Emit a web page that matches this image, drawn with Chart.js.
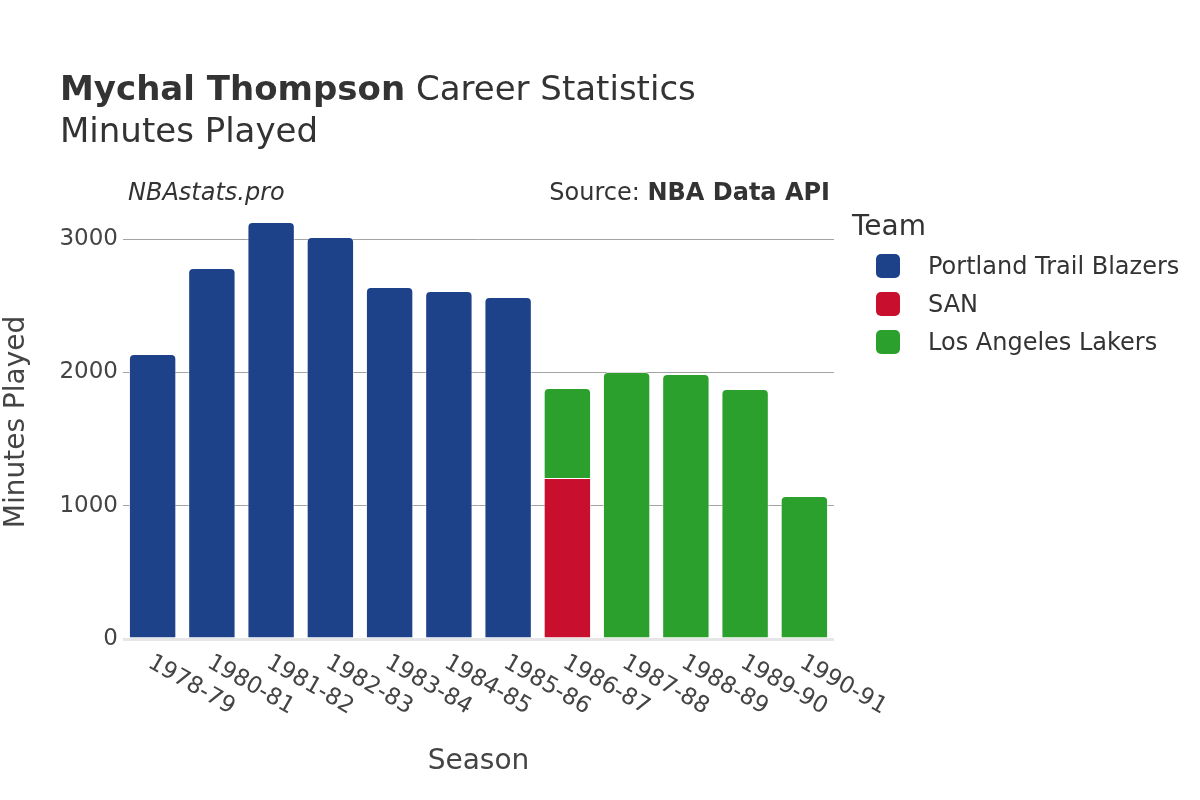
<!DOCTYPE html>
<html>
<head>
<meta charset="utf-8">
<script src="https://cdn.jsdelivr.net/npm/chart.js@4/dist/chart.umd.min.js"></script>
<style>
  html, body { margin: 0; padding: 0; background: #fff; }
  #wrap { position: relative; width: 1200px; height: 800px; font-family: "DejaVu Sans", sans-serif; color: #333; }
  canvas { position: absolute; left: 0; top: 0; }
  .t { position: absolute; white-space: nowrap; }
  .sw { position: absolute; width: 24px; height: 24px; border-radius: 5px; }
</style>
</head>
<body>
<div id="wrap">
  <canvas id="c" width="1200" height="800"></canvas>
  <div class="t" style="left:60px; top:71px; font-size:34px; line-height:34px;"><b>Mychal Thompson</b> Career Statistics</div>
  <div class="t" style="left:60px; top:113px; font-size:34px; line-height:34px;">Minutes Played</div>
  <div class="t" style="left:128px; top:180px; font-size:24px; line-height:24px; font-style:italic;">NBAstats.pro</div>
  <div class="t" style="right:370px; top:180px; font-size:24px; line-height:24px;">Source: <b>NBA Data API</b></div>
  <div class="t" style="left:852px; top:212px; font-size:28px; line-height:28px;">Team</div>
  <div id="legend"></div>
</div>
<script>
const seasons = ["1978-79","1980-81","1981-82","1982-83","1983-84","1984-85","1985-86","1986-87","1987-88","1988-89","1989-90","1990-91"];
const teams = ["Portland Trail Blazers","SAN","Los Angeles Lakers"];
const teamColors = ["#1d428a","#c8102e","#2ca02c"];
const portland = [2138, 2783, 3128, 3015, 2640, 2610, 2565, null, null, null, null, null];
const san      = [null, null, null, null, null, null, null, 1208, null, null, null, null];
const lakers   = [null, null, null, null, null, null, null, 675, 2003, 1988, 1875, 1073];
const yTicks = [0, 1000, 2000, 3000];

const seriesValues = [portland, san, lakers];

// HTML legend built from the series names/colors
const leg = document.getElementById('legend');
teams.forEach((name, i) => {
  const y = 254 + i * 38;
  const sw = document.createElement('div');
  sw.className = 'sw';
  sw.style.left = '876px'; sw.style.top = y + 'px'; sw.style.background = teamColors[i];
  leg.appendChild(sw);
  const tx = document.createElement('div');
  tx.className = 't';
  tx.style.left = '928px'; tx.style.top = y + 'px';
  tx.style.fontSize = '24px'; tx.style.lineHeight = '24px';
  tx.textContent = name;
  leg.appendChild(tx);
});

const xLabelPlugin = {
  id: 'xLabels',
  afterDraw(chart) {
    const ctx = chart.ctx;
    const xs = chart.scales.x;
    const base = chart.scales.y.getPixelForValue(0);
    ctx.save();
    ctx.fillStyle = '#444';
    ctx.font = '23px "DejaVu Sans", sans-serif';
    ctx.textAlign = 'left';
    ctx.textBaseline = 'middle';
    seasons.forEach((s, i) => {
      const x = xs.getPixelForValue(i);
      ctx.save();
      ctx.translate(x - 3, base + 22);
      ctx.rotate(Math.PI / 6);
      ctx.fillText(s, 0, 0);
      ctx.restore();
    });
    ctx.restore();
  }
};

const datasets = teams.map((name, i) => ({
  label: name,
  data: seriesValues[i],
  backgroundColor: teamColors[i],
  borderColor: 'rgba(255,255,255,0.6)',
  borderWidth: 1,
  borderSkipped: 'start',
  borderRadius: name === 'SAN' ? 0 : 5,
  barPercentage: 0.8,
  categoryPercentage: 1.0,
  stack: 's'
}));

new Chart(document.getElementById('c'), {
  type: 'bar',
  data: { labels: seasons, datasets },
  plugins: [xLabelPlugin],
  options: {
    responsive: false,
    animation: false,
    layout: { padding: { left: 0, right: 366, top: 205, bottom: 21 } },
    plugins: { legend: { display: false }, tooltip: { enabled: false } },
    scales: {
      x: {
        stacked: true,
        grid: { display: false, drawTicks: false },
        border: { display: false },
        ticks: { display: false },
        title: { display: true, text: 'Season', color: '#444', font: { family: 'DejaVu Sans', size: 28 }, padding: { top: 4, bottom: 0 } },
        afterFit(s) { s.height = 140; }
      },
      y: {
        stacked: true,
        min: 0,
        max: 3255,
        afterBuildTicks(s) { s.ticks = yTicks.map(v => ({ value: v })); },
        ticks: { includeBounds: false, padding: 5, color: '#444', font: { family: 'DejaVu Sans', size: 23 }, callback: v => String(v) },
        grid: {
          drawTicks: false,
          color: ctx => ctx.tick && ctx.tick.value === 0 ? '#e6e6e6' : '#a3a3a3',
          lineWidth: ctx => ctx.tick && ctx.tick.value === 0 ? 3 : 1
        },
        border: { display: false },
        title: { display: true, text: 'Minutes Played', color: '#444', font: { family: 'DejaVu Sans', size: 28 }, padding: { top: 0, bottom: 0 } },
        afterFit(s) { s.width = 123; }
      }
    }
  }
});
</script>
</body>
</html>
